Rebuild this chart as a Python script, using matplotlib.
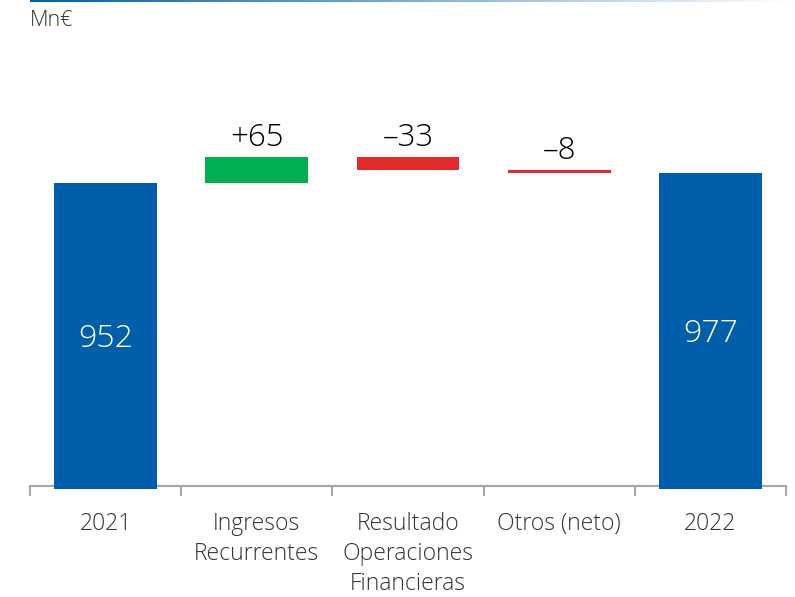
import numpy as np
import matplotlib
matplotlib.use("Agg")
from matplotlib import pyplot as plt
from matplotlib.colors import LinearSegmentedColormap

## data
categories = ['2021', 'Ingresos\nRecurrentes', 'Resultado\nOperaciones\nFinancieras', 'Otros (neto)', '2022']
start_value = 952
deltas = [65, -33, -8]
end_value = 977
delta_labels = ['+65', '\u201333', '\u20138']

blue = '#005EAB'
green = '#00B050'
red = '#E52A2A'
text_col = '#333333'

plt.rcParams['font.family'] = ['Open Sans', 'DejaVu Sans']

fig = plt.figure(figsize=(7.95, 5.97), dpi=100)
ax = fig.add_axes([30/795, 1 - 486/597, 756/795, 446/597])

ymin, ymax = 194.5, 1309.5
base = ymin - 7.5  # bars poke slightly below the axis line
x = np.arange(len(categories))
w = 0.68

# totals
for xi, v in [(x[0], start_value), (x[-1], end_value)]:
    ax.bar(xi, v - base, bottom=base, width=w, color=blue, zorder=3, clip_on=False)
    ax.annotate(str(v), (xi, (v + ymin) / 2), xytext=(0, -3), textcoords='offset points',
                ha='center', va='center', color='white', fontsize=23, fontweight='light')

# deltas
level = start_value
for i, (d, lab) in enumerate(zip(deltas, delta_labels)):
    bottom = min(level, level + d)
    ax.bar(x[i + 1], abs(d), bottom=bottom, width=w, color=green if d > 0 else red, zorder=3)
    ax.annotate(lab, (x[i + 1], bottom + abs(d)), xytext=(0, 2), textcoords='offset points',
                ha='center', va='bottom', fontsize=22.5, fontweight='light', color='black')
    level += d

ax.set_xlim(-0.5, len(categories) - 0.5)
ax.set_ylim(ymin, ymax)

for s in ['top', 'right', 'left']:
    ax.spines[s].set_visible(False)
ax.spines['bottom'].set_color('#A6A6A6')
ax.spines['bottom'].set_linewidth(1.5)
ax.set_yticks([])

ax.set_xticks(x)
ax.set_xticklabels(categories, fontsize=16.5, fontweight='light', color=text_col, linespacing=1.33, va='top')
ax.tick_params(axis='x', which='major', length=0, pad=19)
ax.set_xticks(np.arange(-0.5, len(categories)), minor=True)
ax.tick_params(axis='x', which='minor', length=7.5, width=1.5, color='#A6A6A6')

fig.text(30/795, 1 - 20/597, 'Mn\u20ac', fontsize=15.5, fontweight='light', color=text_col,
         ha='left', va='center')

# gradient rule on top
lax = fig.add_axes([30/795, 1 - 2/597, 765/795, 2/597])
cmap = LinearSegmentedColormap.from_list('rule', [blue, '#FFFFFF'])
lax.imshow(np.linspace(0, 1, 256)[None, :], aspect='auto', cmap=cmap)
lax.axis('off')

fig.savefig('out.png', dpi=100)
